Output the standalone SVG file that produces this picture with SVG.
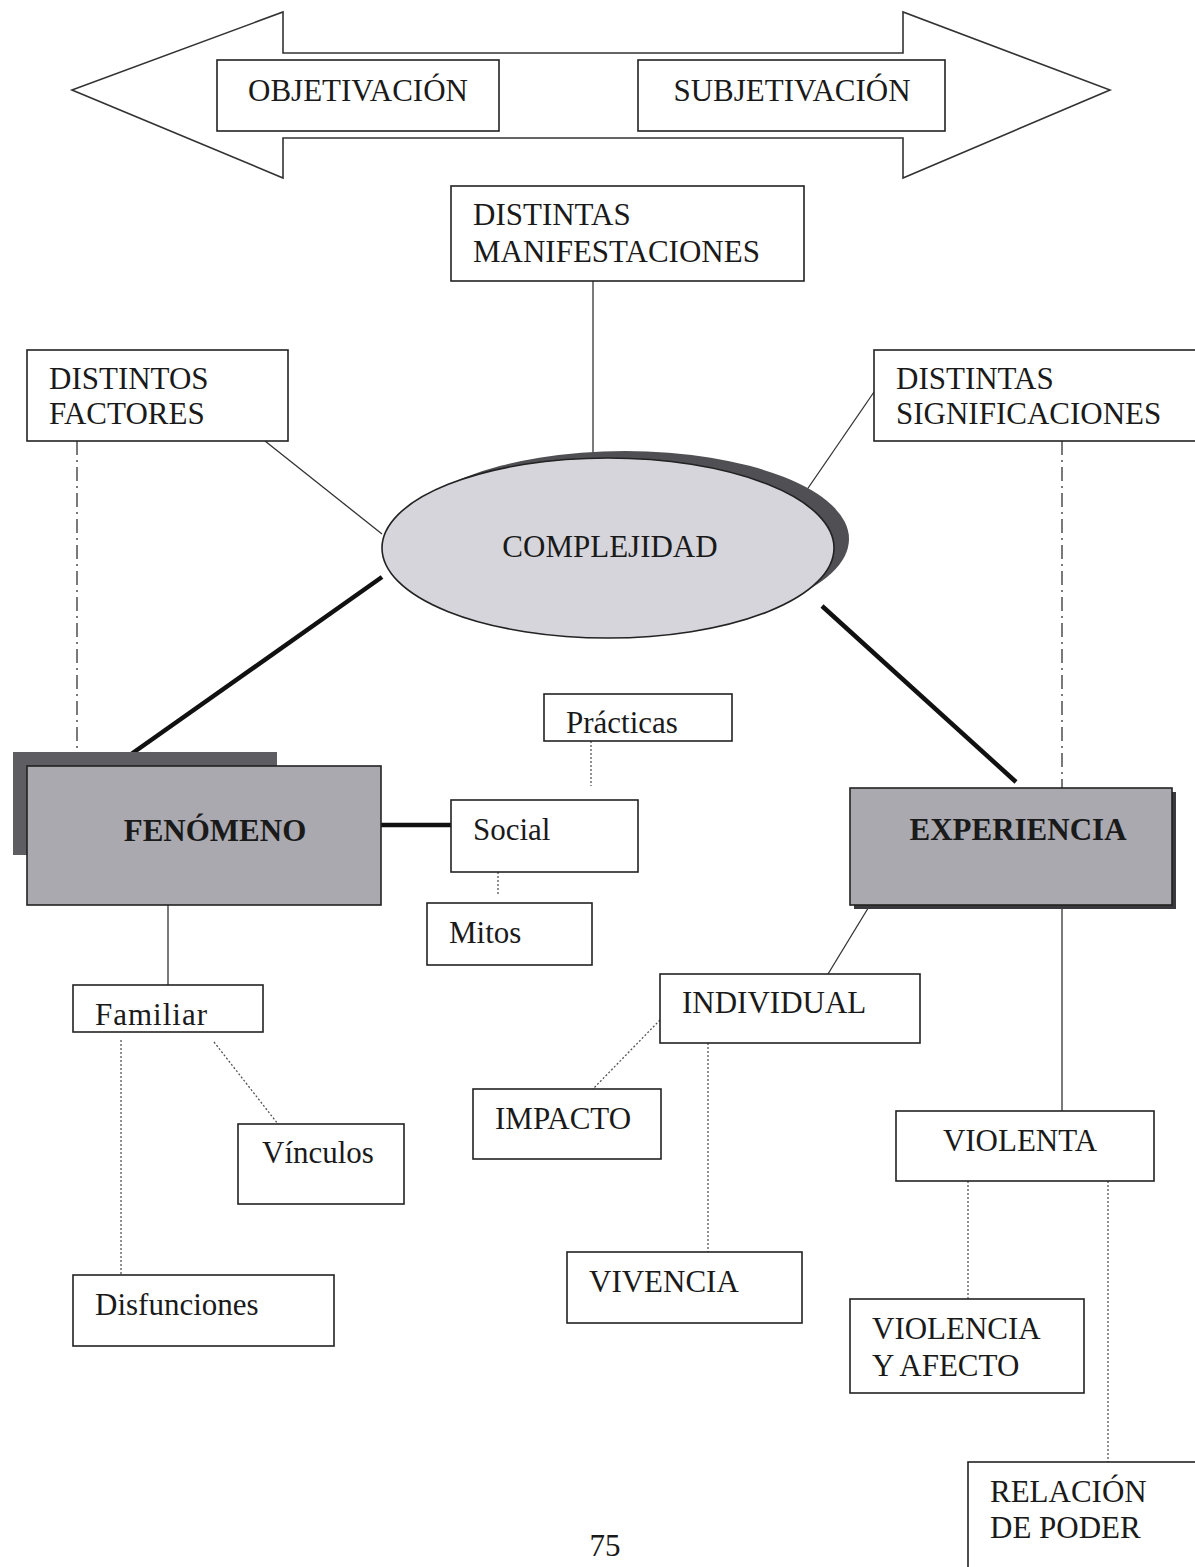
<svg xmlns="http://www.w3.org/2000/svg" width="1195" height="1567" viewBox="0 0 1195 1567">
<style>
text{font-family:"Liberation Serif","Times New Roman",serif;font-size:31px;fill:#1a1a1a}
.b{font-weight:bold}
.box{fill:#fff;stroke:#222;stroke-width:1.6}
.thin{stroke:#333;stroke-width:1.3;fill:none}
.thick{stroke:#111;stroke-width:4.5;fill:none}
.dot{stroke:#555;stroke-width:1.3;stroke-dasharray:2 2;fill:none}
.dd{stroke:#333;stroke-width:1.3;stroke-dasharray:14 5 2 5;fill:none}
</style>
<rect width="1195" height="1567" fill="#fff"/>
<g id="arrow">
<polygon points="72,90 283,12 283,53 903,53 903,12 1110,90 903,178 903,138 283,138 283,178" fill="#fff" stroke="#333" stroke-width="1.6"/>
</g>
<g id="connectors">
<line class="thin" x1="593" y1="281" x2="593" y2="463"/>
<line class="thin" x1="265" y1="441" x2="382" y2="534"/>
<line class="thin" x1="874" y1="392" x2="804" y2="494"/>
<line class="dd" x1="77" y1="441" x2="77" y2="772"/>
<line class="dd" x1="1062" y1="441" x2="1062" y2="790"/>
<line class="thick" x1="382" y1="577" x2="120" y2="762"/>
<line class="thick" x1="822" y1="606" x2="1016" y2="782"/>
<line class="thick" x1="381" y1="825" x2="451" y2="825"/>
<line class="dot" x1="591" y1="741" x2="591" y2="786"/>
<line class="dot" x1="498" y1="872" x2="498" y2="894"/>
<line class="thin" x1="168" y1="905" x2="168" y2="985"/>
<line class="dot" x1="121" y1="1040" x2="121" y2="1275"/>
<line class="dot" x1="214" y1="1042" x2="285" y2="1133"/>
<line class="thin" x1="870" y1="905" x2="828" y2="974"/>
<line class="dot" x1="660" y1="1020" x2="592" y2="1090"/>
<line class="dot" x1="708" y1="1043" x2="708" y2="1252"/>
<line class="thin" x1="1062" y1="905" x2="1062" y2="1111"/>
<line class="dot" x1="968" y1="1181" x2="968" y2="1299"/>
<line class="dot" x1="1108" y1="1181" x2="1108" y2="1462"/>
</g>
<g id="objetivacion"><rect class="box" x="217" y="60" width="282" height="71"/><text x="358" y="101" text-anchor="middle">OBJETIVACIÓN</text></g>
<g id="subjetivacion"><rect class="box" x="638" y="60" width="307" height="71"/><text x="792" y="101" text-anchor="middle">SUBJETIVACIÓN</text></g>
<g id="manifestaciones"><rect class="box" x="451" y="186" width="353" height="95"/><text x="473" y="225">DISTINTAS</text><text x="473" y="262">MANIFESTACIONES</text></g>
<g id="factores"><rect class="box" x="27" y="350" width="261" height="91"/><text x="49" y="389">DISTINTOS</text><text x="49" y="424">FACTORES</text></g>
<g id="significaciones"><rect class="box" x="874" y="350" width="330" height="91"/><text x="896" y="389">DISTINTAS</text><text x="896" y="424">SIGNIFICACIONES</text></g>
<g id="complejidad">
<ellipse cx="625" cy="539" rx="224" ry="88" fill="#505054"/>
<ellipse cx="608" cy="548" rx="226" ry="90" fill="#d5d5db" stroke="#222" stroke-width="1.6"/>
<text x="610" y="557" text-anchor="middle">COMPLEJIDAD</text>
</g>
<g id="fenomeno">
<rect x="13" y="752" width="264" height="103" fill="#5e5e62"/>
<rect x="27" y="766" width="354" height="139" fill="#a9a9af" stroke="#222" stroke-width="1.6"/>
<text class="b" x="215" y="841" text-anchor="middle">FENÓMENO</text>
</g>
<g id="practicas"><rect class="box" x="544" y="694" width="188" height="47"/><text x="566" y="733">Prácticas</text></g>
<g id="social"><rect class="box" x="451" y="800" width="187" height="72"/><text x="473" y="840">Social</text></g>
<g id="mitos"><rect class="box" x="427" y="903" width="165" height="62"/><text x="449" y="943">Mitos</text></g>
<g id="familiar"><rect class="box" x="73" y="985" width="190" height="47"/><text x="95" y="1025" letter-spacing="1">Familiar</text></g>
<g id="vinculos"><rect class="box" x="238" y="1124" width="166" height="80"/><text x="262" y="1163">Vínculos</text></g>
<g id="disfunciones"><rect class="box" x="73" y="1275" width="261" height="71"/><text x="95" y="1315">Disfunciones</text></g>
<g id="experiencia">
<rect x="854" y="792" width="322" height="117" fill="#3a3a3e"/>
<rect x="850" y="788" width="322" height="117" fill="#a9a9af" stroke="#222" stroke-width="1.6"/>
<text class="b" x="1018" y="840" text-anchor="middle">EXPERIENCIA</text>
</g>
<g id="individual"><rect class="box" x="660" y="974" width="260" height="69"/><text x="682" y="1013">INDIVIDUAL</text></g>
<g id="impacto"><rect class="box" x="473" y="1089" width="188" height="70"/><text x="495" y="1129">IMPACTO</text></g>
<g id="vivencia"><rect class="box" x="567" y="1252" width="235" height="71"/><text x="589" y="1292">VIVENCIA</text></g>
<g id="violenta"><rect class="box" x="896" y="1111" width="258" height="70"/><text x="1020" y="1151" text-anchor="middle">VIOLENTA</text></g>
<g id="violencia_afecto"><rect class="box" x="850" y="1299" width="234" height="94"/><text x="872" y="1339">VIOLENCIA</text><text x="872" y="1376">Y AFECTO</text></g>
<g id="relacion_poder"><rect class="box" x="968" y="1462" width="240" height="120"/><text x="990" y="1502">RELACIÓN</text><text x="990" y="1538">DE PODER</text></g>
<text x="605" y="1556" text-anchor="middle" font-size="25">75</text>
</svg>
